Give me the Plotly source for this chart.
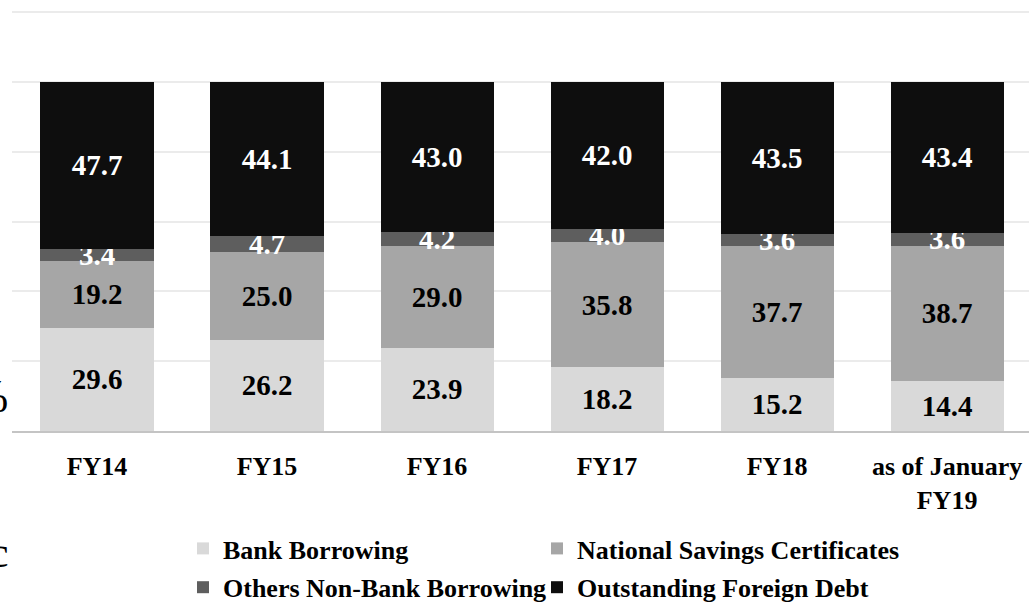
import plotly.graph_objects as go

categories = ["FY14", "FY15", "FY16", "FY17", "FY18", "as of January<br>FY19"]
bank = [29.6, 26.2, 23.9, 18.2, 15.2, 14.4]
nsc = [19.2, 25.0, 29.0, 35.8, 37.7, 38.7]
others = [3.4, 4.7, 4.2, 4.0, 3.6, 3.6]
foreign = [47.7, 44.1, 43.0, 42.0, 43.5, 43.4]
series_names = ["Bank Borrowing", "National Savings Certificates",
                "Others Non-Bank Borrowing", "Outstanding Foreign Debt"]

series = [bank, nsc, others, foreign]
colors = ["#d9d9d9", "#a6a6a6", "#5e5e5e", "#0e0e0e"]
text_colors = ["#000000", "#000000", "#ffffff", "#ffffff"]
legend_ids = ["legend", "legend2", "legend", "legend2"]

W, H = 1029, 605
ML, MR, MT, MB = 12, 0, 11, 174
PW = W - ML - MR
PH = H - MT - MB

fig = go.Figure()
for i, (vals, name, col, tcol, lg) in enumerate(zip(series, series_names, colors, text_colors, legend_ids)):
    fig.add_trace(go.Bar(
        x=categories, y=vals, name=name,
        marker=dict(color=col, line=dict(width=0)),
        texttemplate="%{y:.1f}",
        textposition="inside",
        insidetextanchor="middle",
        textangle=0,
        textfont=dict(family="Liberation Serif", size=29, color=tcol, weight="bold"),
        legend=lg, legendgroup=f"g{i}",
    ))

def px_x(p):
    return (p - ML) / PW

def px_y(p):
    return (H - MB - p) / PH

legend_font = dict(family="Liberation Serif", size=26, color="#000000", weight="bold")
common_leg = dict(orientation="v", xanchor="left", yanchor="top", font=legend_font,
                  traceorder="grouped", bgcolor="rgba(0,0,0,0)", tracegroupgap=2)

fig.update_layout(
    width=W, height=H,
    barmode="stack",
    bargap=0.335,
    margin=dict(l=ML, r=MR, t=MT, b=MB, autoexpand=False),
    plot_bgcolor="white",
    paper_bgcolor="white",
    uniformtext=dict(minsize=29, mode="show"),
    font=dict(family="Liberation Serif", color="#000000"),
    xaxis=dict(
        range=[-0.5, 5.482],
        showline=True, linecolor="#c4c4c4", linewidth=2,
        tickfont=dict(family="Liberation Serif", size=26, color="#000000", weight="bold"),
        ticks="", showgrid=False,
        ticklabelstandoff=11,
    ),
    yaxis=dict(
        range=[0, 120.3], tickvals=[20, 40, 60, 80, 100, 120],
        showticklabels=False,
        showgrid=True, gridcolor="#ebebeb", gridwidth=1.5,
        zeroline=False,
    ),
    legend=dict(x=px_x(183), y=px_y(525), **common_leg),
    legend2=dict(x=px_x(537), y=px_y(525), **common_leg),
    annotations=[
        dict(text="%", xref="paper", yref="paper", x=px_x(10), y=px_y(396),
             xanchor="right", yanchor="middle", showarrow=False,
             font=dict(family="Liberation Serif", size=46, color="#000000")),
        dict(text="c", xref="paper", yref="paper", x=px_x(11), y=px_y(552),
             xanchor="right", yanchor="middle", showarrow=False,
             font=dict(family="Liberation Serif", size=44, color="#000000")),
    ],
)

fig.write_html("out.html")
